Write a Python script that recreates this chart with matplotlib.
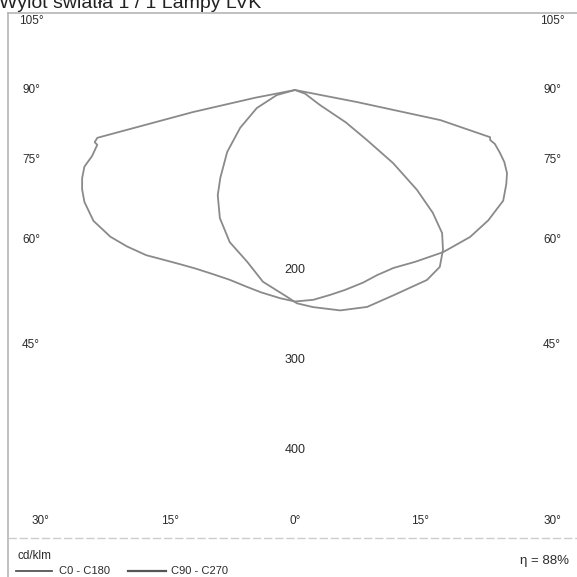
import numpy as np
import matplotlib.pyplot as plt
from matplotlib.lines import Line2D

plt.rcParams['font.family'] = ['Liberation Sans', 'DejaVu Sans']

# C0 - C180 (szeroka krzywa), kat od nadiru [deg], natezenie [cd/klm]
c0_ang = [-85, -79, -77.8, -76.4, -75.4, -74.5, -72, -70, -67.5, -65, -62, -57, -51.5, -47,
          -42, -38, -33.5, -29, -24, -19, -14, -9.5, -4, 0,
          5, 9.7, 14, 19.4, 24, 29, 35, 42.4, 50, 56, 62, 66, 68.6, 71, 73, 74.9, 75.6,
          76.4, 78.3, 79, 85]
c0_val = [0, 45, 116, 226, 230, 228, 237, 249, 256, 261, 265, 267, 262, 255,
          247, 239, 232, 227, 224, 223, 225, 228, 232, 235,
          234, 231, 229, 227, 225, 226, 233, 244, 254, 259, 262, 257, 253, 246, 238, 230, 224,
          223, 165, 70, 0]

# C90 - C270 (waska krzywa)
c90_ang = [-90, -74.5, -64.7, -55.4, -47.6, -40.4, -36.3, -30.4, -23.2, -15.6, -9.5, -2.2,
           0.5, 4.7, 11.6, 18.4, 25.8, 34.8, 39.3, 42.8, 45.8, 48.3, 50.7, 53.3, 55.2,
           57.5, 59, 70, 90]
c90_val = [0, 21, 47, 74, 102, 128, 145, 165, 184, 198, 216, 230,
           237, 242, 250, 254, 253, 257, 254, 242, 228, 205, 175, 136, 97,
           67, 32, 12, 0]

angle_labels_side = ['105°', '90°', '75°', '60°', '45°']
angle_labels_bottom = ['30°', '15°', '0°', '15°', '30°']
radial_ticks = [200, 300, 400]
eta = 88

W = 577
S = 0.9        # px na cd/klm
OX, OY = 295, 90  # srodek wykresu w px

fig = plt.figure(figsize=(W / 100, W / 100), dpi=100)
ax = fig.add_axes([0, 0, 1, 1])
ax.set_xlim(-OX / S, (W - OX) / S)
ax.set_ylim(-(W - OY) / S, OY / S)
ax.axis('off')

gray = '#8a8a8a'
for ang, val in [(c0_ang, c0_val), (c90_ang, c90_val)]:
    a = np.radians(ang)
    v = np.array(val, dtype=float)
    ax.plot(v * np.sin(a), -v * np.cos(a), color=gray, lw=1.3,
            solid_joinstyle='round', solid_capstyle='round')

txt = '#2b2b2b'

def px(x, y):
    return x / W, 1 - y / W

# ramka
line_c = '#b5b5b5'
fig.add_artist(Line2D([8 / W, 1], [1 - 13 / W] * 2, color=line_c, lw=1.2))
fig.add_artist(Line2D([8 / W] * 2, [1 - 13 / W, 0], color=line_c, lw=1.2))
fig.add_artist(Line2D([8 / W, 1], [1 - 538 / W] * 2, color='#cccccc', lw=1.0, ls=(0, (6, 2))))

# tytul (przyciety u gory, jak na skanie)
fig.text(*px(-1, 8), 'Wylot światła 1 / 1 Lampy LVK', fontsize=14, color='#222222',
         ha='left', va='baseline')

side_y = [21, 90, 160, 240, 345]
for lab, y in zip(angle_labels_side, side_y):
    fig.text(*px(31, y), lab, fontsize=8.5, color=txt, ha='center', va='center')
    fig.text(*px(552, y), lab, fontsize=8.5, color=txt, ha='center', va='center')

bottom_x = [40, 170, 295, 420, 552]
for lab, x in zip(angle_labels_bottom, bottom_x):
    fig.text(*px(x, 521), lab, fontsize=8.5, color=txt, ha='center', va='center')

for r in radial_ticks:
    ax.text(0, -r, str(r), fontsize=9, color=txt, ha='center', va='center')

# legenda
fig.text(*px(18, 556), 'cd/klm', fontsize=8.5, color=txt, ha='left', va='center')
fig.add_artist(Line2D([16 / W, 52 / W], [1 - 571 / W] * 2, color='#555555', lw=1.3))
fig.text(*px(59, 571), 'C0 - C180', fontsize=8, color=txt, ha='left', va='center')
fig.add_artist(Line2D([128 / W, 166 / W], [1 - 571 / W] * 2, color='#555555', lw=1.6))
fig.text(*px(171, 571), 'C90 - C270', fontsize=8, color=txt, ha='left', va='center')
fig.text(*px(569, 561), 'η = %d%%' % eta, fontsize=9.5, color=txt, ha='right', va='center')

fig.savefig('out.png', dpi=100)
